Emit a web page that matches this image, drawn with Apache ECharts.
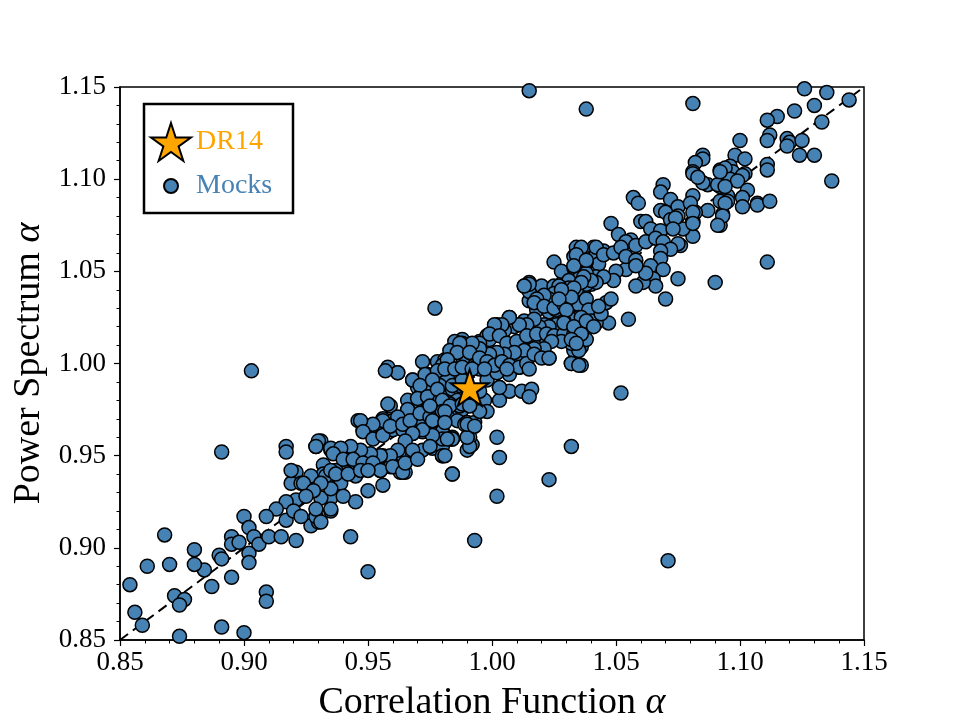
<!DOCTYPE html>
<html>
<head>
<meta charset="utf-8">
<script src="https://cdn.jsdelivr.net/npm/echarts@6/dist/echarts.min.js"></script>
<style>
html, body { margin: 0; padding: 0; background: #fff; }
#chart { width: 960px; height: 720px; }
</style>
</head>
<body>
<div id="chart"></div>
<script>
/* ---------- data: [correlation function alpha, power spectrum alpha] ---------- */
const dr14 = [0.991, 0.988]
const oneToOne = [[0.85, 0.85], [1.15, 1.15]]

const mocksLow = [
  [0.891, 0.952], [0.917, 0.955], [0.917, 0.952], [0.929, 0.955], [0.931, 0.958], [0.935, 0.953],
  [0.921, 0.941], [0.932, 0.945], [0.932, 0.940], [0.919, 0.935], [0.923, 0.935], [0.927, 0.933],
  [0.930, 0.935], [0.921, 0.926], [0.917, 0.925], [0.913, 0.921], [0.909, 0.917], [0.900, 0.917],
  [0.902, 0.911], [0.904, 0.906], [0.906, 0.902], [0.902, 0.897], [0.902, 0.892], [0.910, 0.906],
  [0.915, 0.906], [0.921, 0.904], [0.917, 0.915], [0.927, 0.912], [0.930, 0.914], [0.929, 0.917],
  [0.935, 0.920], [0.935, 0.927], [0.931, 0.927], [0.895, 0.906], [0.895, 0.902], [0.898, 0.903],
  [0.890, 0.896], [0.891, 0.894], [0.895, 0.884], [0.884, 0.888], [0.880, 0.899], [0.880, 0.891],
  [0.887, 0.879], [0.868, 0.907], [0.861, 0.890], [0.870, 0.891], [0.854, 0.880], [0.872, 0.874],
  [0.876, 0.872], [0.874, 0.869], [0.856, 0.865], [0.859, 0.858], [0.874, 0.852], [0.891, 0.857],
  [0.900, 0.854], [0.909, 0.876], [0.909, 0.871]
]

const mocksOutliers = [
  [0.903, 0.996], [0.950, 0.887], [0.943, 0.906], [0.977, 1.030], [0.993, 0.904], [1.015, 1.148],
  [1.038, 1.138], [1.081, 1.141], [1.071, 0.893], [1.052, 0.984], [1.032, 0.955], [1.023, 0.937],
  [1.002, 0.960], [1.003, 0.949], [1.002, 0.928], [0.984, 0.940], [0.981, 0.950], [0.991, 0.955],
  [0.990, 0.960], [0.984, 0.959], [0.982, 0.959], [0.990, 0.967], [0.993, 0.966], [1.012, 0.985],
  [1.016, 0.986], [1.015, 0.982], [1.003, 0.980], [1.003, 0.987], [0.995, 0.974], [0.991, 0.977],
  [0.981, 0.974], [0.981, 0.968]
]

const mocksHigh = [
  [1.144, 1.143], [1.135, 1.147], [1.126, 1.149], [1.130, 1.140], [1.122, 1.137], [1.115, 1.134],
  [1.111, 1.132], [1.133, 1.131], [1.100, 1.121], [1.112, 1.124], [1.111, 1.121], [1.119, 1.122],
  [1.120, 1.120], [1.119, 1.118], [1.125, 1.121], [1.124, 1.113], [1.130, 1.113], [1.137, 1.099],
  [1.098, 1.113], [1.102, 1.111], [1.111, 1.108], [1.111, 1.105], [1.096, 1.107], [1.097, 1.104],
  [1.102, 1.103], [1.101, 1.102], [1.085, 1.113], [1.085, 1.111], [1.082, 1.109], [1.081, 1.104],
  [1.092, 1.105], [1.094, 1.106], [1.096, 1.100], [1.099, 1.099], [1.103, 1.094], [1.087, 1.097],
  [1.085, 1.098], [1.092, 1.096], [1.081, 1.091], [1.095, 1.091], [1.095, 1.088], [1.101, 1.090],
  [1.101, 1.085], [1.092, 1.088], [1.087, 1.083], [1.107, 1.087], [1.107, 1.086], [1.112, 1.088],
  [1.093, 1.081], [1.092, 1.075], [1.082, 1.082], [1.081, 1.077], [1.081, 1.069], [1.077, 1.073],
  [1.076, 1.064], [1.111, 1.055],
  [1.069, 1.097], [1.068, 1.093], [1.057, 1.090], [1.059, 1.087], [1.081, 1.103], [1.083, 1.101],
  [1.091, 1.097], [1.094, 1.096], [1.092, 1.104], [1.094, 1.087], [1.093, 1.080], [1.091, 1.075],
  [1.072, 1.089], [1.075, 1.085], [1.068, 1.083], [1.070, 1.082], [1.075, 1.080], [1.080, 1.087],
  [1.081, 1.082], [1.081, 1.076], [1.048, 1.076], [1.051, 1.070], [1.060, 1.077], [1.062, 1.077],
  [1.064, 1.073], [1.068, 1.072], [1.072, 1.078], [1.074, 1.079], [1.073, 1.073], [1.056, 1.067],
  [1.054, 1.066], [1.058, 1.064], [1.062, 1.066], [1.066, 1.068], [1.069, 1.066], [1.075, 1.065],
  [1.072, 1.062], [1.068, 1.061], [1.068, 1.057], [1.064, 1.053], [1.069, 1.051], [1.075, 1.046],
  [1.090, 1.044], [1.070, 1.035], [1.055, 1.024], [1.047, 1.022], [1.042, 1.022], [1.040, 1.023],
  [1.036, 1.025], [1.065, 1.046], [1.066, 1.042], [1.061, 1.044], [1.058, 1.042], [1.062, 1.049],
  [1.054, 1.051], [1.050, 1.050], [1.049, 1.045], [1.045, 1.047], [1.042, 1.044], [1.040, 1.045],
  [1.037, 1.047], [1.036, 1.044], [1.033, 1.041], [1.032, 1.036], [1.042, 1.063], [1.036, 1.063],
  [1.034, 1.059], [1.033, 1.053], [1.038, 1.056], [1.045, 1.059], [1.049, 1.060], [1.052, 1.063],
  [1.054, 1.058], [1.058, 1.056], [1.058, 1.053], [1.028, 1.040], [1.027, 1.035], [1.030, 1.029],
  [1.029, 1.022], [1.033, 1.020], [1.036, 1.016], [1.038, 1.023], [1.041, 1.020], [1.044, 1.027],
  [1.046, 1.033], [1.048, 1.035], [1.043, 1.031], [1.032, 1.013], [1.034, 1.011]
]

const mocksMid = [
  [1.025, 1.055], [1.034, 1.063], [1.041, 1.063], [1.036, 1.058], [1.042, 1.059], [1.045, 1.061],
  [1.034, 1.054], [1.038, 1.054], [1.043, 1.054], [1.033, 1.049], [1.038, 1.048], [1.042, 1.047],
  [1.029, 1.045], [1.034, 1.042], [1.040, 1.043], [1.027, 1.041], [1.032, 1.038], [1.037, 1.037],
  [1.015, 1.044], [1.013, 1.042], [1.015, 1.034], [1.021, 1.035], [1.025, 1.034], [1.018, 1.029],
  [1.023, 1.028], [1.026, 1.029], [1.030, 1.030], [1.034, 1.032], [1.038, 1.029], [1.042, 1.028],
  [1.042, 1.025], [1.036, 1.016], [1.036, 1.009], [1.033, 1.007], [1.032, 1.000], [1.036, 0.999],
  [1.023, 1.003], [1.020, 1.004], [1.016, 1.005], [1.011, 0.998], [1.007, 0.994], [1.003, 0.987],
  [1.002, 0.995], [1.006, 1.000], [1.010, 1.004], [1.014, 1.007], [1.018, 1.009], [1.022, 1.013],
  [1.026, 1.015], [1.030, 1.018], [1.025, 1.020], [1.021, 1.021], [1.017, 1.022], [1.013, 1.023],
  [1.009, 1.020], [1.005, 1.018], [1.001, 1.016], [0.999, 1.013], [0.995, 1.011], [0.991, 1.009],
  [0.988, 1.011], [0.986, 1.006], [0.983, 1.002], [0.980, 0.999], [0.978, 0.996], [0.976, 0.991],
  [0.978, 0.986], [0.980, 0.980], [0.983, 0.977], [0.988, 0.978], [0.993, 0.978], [0.997, 0.980],
  [0.998, 0.974], [1.007, 0.985], [0.995, 0.985], [0.990, 0.968], [0.993, 0.968], [0.988, 0.991],
  [0.980, 0.974], [0.976, 0.969], [0.975, 0.977], [1.007, 1.025], [1.002, 1.021], [0.985, 1.012],
  [0.983, 1.007], [1.015, 1.039], [1.020, 1.042], [1.025, 1.042], [1.022, 1.036], [1.031, 1.044],
  [1.028, 1.050]
]

const mocksBand = [
  [0.958, 0.998], [0.962, 0.995], [0.972, 1.001], [0.968, 0.991], [0.978, 1.001], [0.981, 1.002],
  [0.984, 0.998], [0.982, 0.997], [0.978, 0.995], [0.974, 0.994], [0.986, 1.011], [0.988, 1.013],
  [0.992, 1.010], [0.995, 1.012], [0.998, 1.015], [0.996, 1.006], [0.992, 1.005], [0.988, 1.002],
  [0.998, 0.998], [0.995, 0.997], [0.998, 0.991], [0.970, 0.987], [0.974, 0.988], [0.978, 0.988],
  [0.982, 0.991], [0.980, 0.985], [0.984, 0.986], [0.987, 0.988], [0.970, 0.981], [0.966, 0.980],
  [0.974, 0.980], [0.978, 0.980], [0.982, 0.979], [0.986, 0.980], [0.990, 0.979], [0.959, 0.977],
  [0.966, 0.974], [0.970, 0.975], [0.974, 0.975], [0.978, 0.975], [0.984, 0.975], [0.988, 0.975],
  [0.946, 0.969], [0.956, 0.970], [0.960, 0.969], [0.965, 0.969], [0.968, 0.970], [0.972, 0.967],
  [0.976, 0.969], [0.980, 0.969], [0.948, 0.964], [0.952, 0.962], [0.956, 0.964], [0.960, 0.964],
  [0.964, 0.964], [0.968, 0.962], [0.972, 0.963], [0.976, 0.962], [0.980, 0.963], [0.984, 0.960],
  [0.990, 0.966], [0.992, 0.956], [0.980, 0.950], [0.930, 0.958], [0.929, 0.955], [0.935, 0.954],
  [0.940, 0.951], [0.944, 0.952], [0.948, 0.950], [0.952, 0.950], [0.956, 0.950], [0.960, 0.949],
  [0.964, 0.950], [0.968, 0.950], [0.972, 0.953], [0.976, 0.954], [0.980, 0.955], [0.943, 0.946],
  [0.947, 0.944], [0.951, 0.944], [0.955, 0.942], [0.959, 0.944], [0.963, 0.941], [0.965, 0.941],
  [0.941, 0.941], [0.937, 0.942], [0.933, 0.939], [0.927, 0.939], [0.924, 0.935], [0.919, 0.942],
  [0.956, 0.934], [0.950, 0.931], [0.945, 0.925], [0.939, 0.935], [0.935, 0.932], [0.931, 0.935],
  [0.928, 0.931], [0.925, 0.928], [0.920, 0.920], [0.923, 0.917], [0.929, 0.921], [0.931, 0.914],
  [0.935, 0.921], [0.940, 0.928], [0.945, 0.939], [0.983, 0.959], [0.991, 0.960]
]

const mocksCoreUpper = [
  [1.033, 1.058], [1.038, 1.055], [1.033, 1.052], [1.038, 1.049], [1.035, 1.046], [1.031, 1.045],
  [1.038, 1.043], [1.034, 1.040], [1.031, 1.041], [1.027, 1.042], [1.025, 1.038], [1.027, 1.035],
  [1.023, 1.035], [1.021, 1.037], [1.018, 1.035], [1.015, 1.043], [1.013, 1.042], [1.017, 1.033],
  [1.021, 1.031], [1.025, 1.030], [1.029, 1.032], [1.033, 1.034], [1.035, 1.032], [1.038, 1.035],
  [1.039, 1.029], [1.035, 1.025], [1.032, 1.024], [1.029, 1.023], [1.026, 1.021], [1.023, 1.020],
  [1.019, 1.020], [1.017, 1.024], [1.014, 1.021], [1.011, 1.021], [1.007, 1.025], [1.004, 1.021],
  [1.001, 1.021], [0.999, 1.016], [1.003, 1.015], [1.006, 1.011], [1.010, 1.012], [1.014, 1.015],
  [1.018, 1.016], [1.022, 1.016], [1.025, 1.015], [1.029, 1.016], [1.033, 1.016], [1.036, 1.016],
  [1.038, 1.013], [1.035, 1.007], [1.032, 1.011], [1.028, 1.012], [1.024, 1.012], [1.021, 1.008],
  [1.017, 1.008], [1.013, 1.007], [1.009, 1.006], [1.005, 1.005], [1.002, 1.006], [0.999, 1.005],
  [0.995, 1.008], [0.992, 1.011], [0.987, 1.011], [0.986, 1.006], [0.991, 1.006], [0.995, 1.003],
  [0.998, 1.001], [1.001, 0.999], [1.004, 1.001], [1.007, 0.999], [1.011, 0.998], [1.014, 1.000],
  [1.017, 1.005], [1.020, 1.003], [1.023, 1.003], [1.032, 1.000], [1.035, 0.999], [0.982, 1.002],
  [0.981, 0.997], [0.985, 0.997], [0.988, 0.998], [0.992, 0.997], [0.997, 0.997], [1.006, 0.997],
  [1.015, 0.997]
]

const mocksCoreLower = [
  [0.962, 0.995], [0.957, 0.996], [0.968, 0.991], [0.973, 0.994], [0.978, 0.995], [0.982, 0.993],
  [0.975, 0.988], [0.971, 0.988], [0.979, 0.988], [0.984, 0.988], [0.989, 0.991], [0.970, 0.981],
  [0.974, 0.982], [0.979, 0.980], [0.983, 0.978], [0.987, 0.977], [0.958, 0.978], [0.966, 0.975],
  [0.962, 0.971], [0.956, 0.969], [0.952, 0.967], [0.947, 0.969], [0.948, 0.963], [0.952, 0.959],
  [0.956, 0.961], [0.959, 0.966], [0.964, 0.967], [0.967, 0.969], [0.971, 0.973], [0.975, 0.971],
  [0.979, 0.970], [0.982, 0.971], [0.986, 0.969], [0.989, 0.967], [0.990, 0.960], [0.984, 0.959],
  [0.980, 0.959], [0.976, 0.961], [0.972, 0.964], [0.968, 0.962], [0.965, 0.958], [0.968, 0.953],
  [0.962, 0.953], [0.959, 0.950], [0.955, 0.950], [0.951, 0.951], [0.947, 0.953], [0.943, 0.955],
  [0.939, 0.954], [0.936, 0.951], [0.940, 0.948], [0.944, 0.948], [0.948, 0.946], [0.952, 0.946],
  [0.955, 0.942], [0.960, 0.944], [0.964, 0.941], [0.965, 0.946], [0.970, 0.948], [0.975, 0.955],
  [0.980, 0.950], [0.984, 0.940], [0.990, 0.953], [0.935, 0.942], [0.937, 0.940], [0.942, 0.940],
  [0.947, 0.942], [0.950, 0.942]
]

const mocks = [].concat(mocksLow, mocksBand, mocksCoreLower, mocksMid, mocksCoreUpper, mocksHigh, mocksOutliers)

/* ---------- style ---------- */
const FONT = 'Liberation Serif'
const STAR = 'path://M100,0 L122.45,69.1 L195.11,69.1 L136.33,111.8 L158.78,180.9 L100,138.2 L41.22,180.9 L63.67,111.8 L4.89,69.1 L77.55,69.1 Z'

const axisCommon = {
  type: 'value',
  min: 0.85,
  max: 1.15,
  interval: 0.05,
  nameLocation: 'middle',
  nameTextStyle: {
    fontFamily: FONT, fontSize: 38, color: '#000',
    rich: { a: { fontFamily: FONT, fontSize: 38, fontStyle: 'italic', color: '#000' } }
  },
  axisLine: { show: true, onZero: false, lineStyle: { color: '#000', width: 1.5 } },
  axisTick: { show: true, inside: false, length: 6, lineStyle: { color: '#000', width: 1.2 } },
  minorTick: { show: true, splitNumber: 5, length: 3.5, lineStyle: { color: '#000', width: 1 } },
  axisLabel: { fontFamily: FONT, fontSize: 27, color: '#000', formatter: (v) => v.toFixed(2) },
  splitLine: { show: false }
}

const chart = echarts.init(document.getElementById('chart'))

chart.setOption({
  animation: false,
  backgroundColor: '#fff',
  grid: {
    left: 120, right: 96, top: 87, bottom: 80,
    outerBoundsMode: 'none',
    show: true, borderColor: '#000', borderWidth: 1.5, backgroundColor: 'transparent'
  },
  xAxis: {
    ...axisCommon,
    name: 'Correlation Function {a|α}',
    nameGap: 44,
    axisLabel: { ...axisCommon.axisLabel, margin: 9 }
  },
  yAxis: {
    ...axisCommon,
    name: 'Power Spectrum {a|α}',
    nameGap: 70,
    axisLabel: { ...axisCommon.axisLabel, margin: 14 }
  },
  graphic: [
    {
      type: 'rect',
      shape: { x: 144, y: 104, width: 149, height: 109 },
      style: { fill: '#fff', stroke: '#000', lineWidth: 2.5 },
      z: 0
    }
  ],
  legend: [
    {
      data: [{ name: 'DR14', icon: STAR }],
      left: 150, top: 122, padding: 0,
      itemWidth: 40, itemHeight: 38,
      symbolKeepAspect: true,
      textStyle: { fontFamily: FONT, fontSize: 28, color: '#FFA500' },
      z: 10
    },
    {
      data: [{ name: 'Mocks', icon: 'circle' }],
      left: 163, top: 172, padding: 0,
      itemWidth: 40, itemHeight: 14,
      textStyle: { fontFamily: FONT, fontSize: 28, color: '#4682B4' },
      z: 10
    }
  ],
  series: [
    {
      name: 'one-to-one',
      type: 'line',
      data: oneToOne,
      symbol: 'none',
      silent: true,
      z: 1,
      lineStyle: { color: '#000', width: 2, type: [10, 6] }
    },
    {
      name: 'Mocks',
      type: 'scatter',
      data: mocks,
      symbol: 'circle',
      symbolSize: 14,
      z: 2,
      itemStyle: { color: '#4682B4', borderColor: '#000', borderWidth: 1.5, opacity: 1 }
    },
    {
      name: 'DR14',
      type: 'scatter',
      data: [dr14],
      symbol: STAR,
      symbolSize: 38,
      symbolKeepAspect: true,
      symbolOffset: [0, 2],
      z: 3,
      itemStyle: { color: '#FFA500', borderColor: '#000', borderWidth: 2, opacity: 1 }
    }
  ]
})
</script>
</body>
</html>
